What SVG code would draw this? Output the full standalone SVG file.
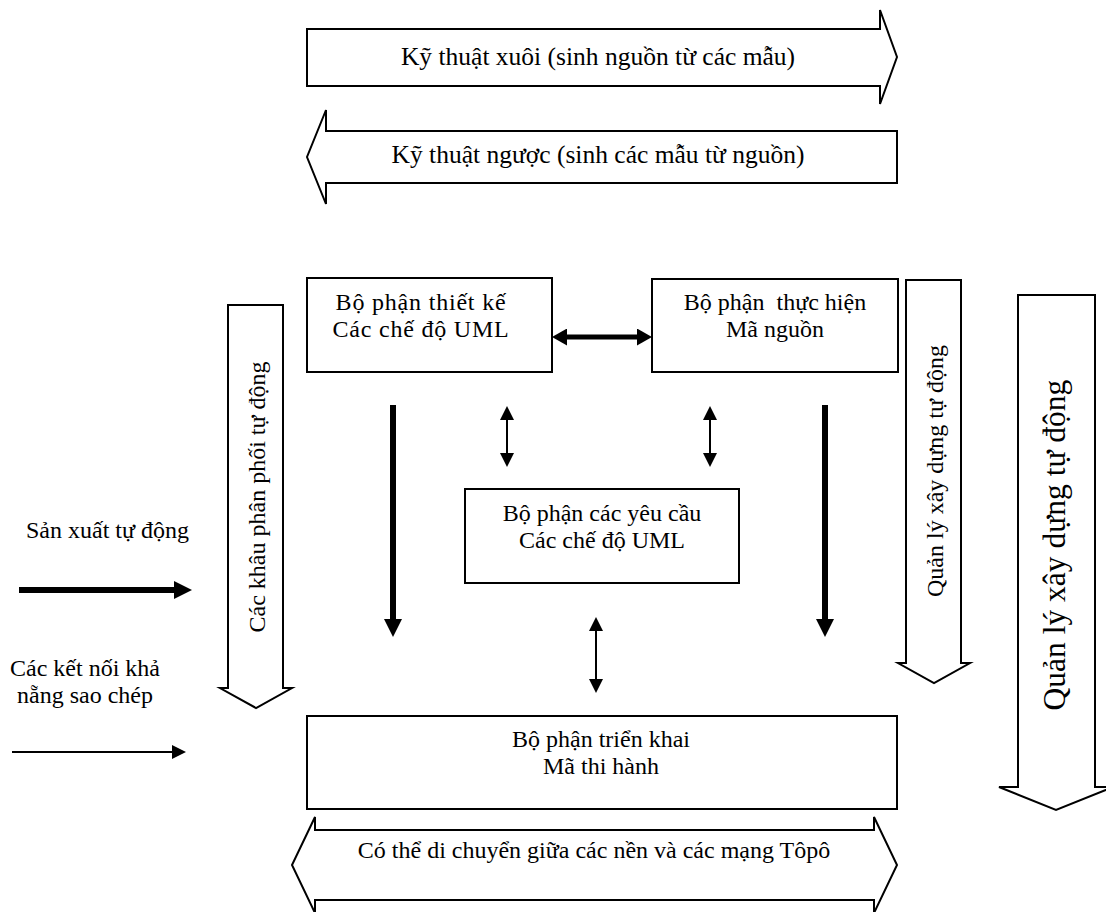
<svg xmlns="http://www.w3.org/2000/svg" width="1106" height="912" viewBox="0 0 1106 912">
<style>
.shape{fill:#fff;stroke:#000;stroke-width:2;stroke-linejoin:miter}
.t{font-family:"Liberation Serif","Times New Roman",serif;font-size:24px;fill:#000;text-anchor:middle}
.lg{font-size:25.5px}
.big{font-size:31.5px}
.thick{stroke:#000;stroke-width:6;fill:none}
.mid{stroke:#000;stroke-width:5;fill:none}
.thin{stroke:#000;stroke-width:2;fill:none}
</style>
<defs>
<marker id="hThick" markerUnits="userSpaceOnUse" markerWidth="18" markerHeight="18" refX="0" refY="9" orient="auto-start-reverse"><path d="M0,0 L18,9 L0,18 Z" fill="#000"/></marker>
<marker id="hMid" markerUnits="userSpaceOnUse" markerWidth="15" markerHeight="17" refX="0" refY="8.5" orient="auto-start-reverse"><path d="M0,0 L15,8.5 L0,17 Z" fill="#000"/></marker>
<marker id="hThin" markerUnits="userSpaceOnUse" markerWidth="14" markerHeight="14" refX="0" refY="7" orient="auto-start-reverse"><path d="M0,0 L14,7 L0,14 Z" fill="#000"/></marker>
</defs>
<rect width="1106" height="912" fill="#fff"/>

<g id="forward">
<polygon class="shape" points="307,29 880,29 880,10 897,57 880,104 880,86 307,86"/>
<text class="t lg" x="598" y="65">Kỹ thuật xuôi (sinh nguồn từ các mẫu)</text>
</g>
<g id="reverse">
<polygon class="shape" points="897,131 326,131 326,110 307,157 326,204 326,183 897,183"/>
<text class="t lg" x="598" y="163">Kỹ thuật ngược (sinh các mẫu từ nguồn)</text>
</g>

<g id="design">
<rect class="shape" x="307" y="278" width="245" height="94"/>
<text class="t" x="421" y="310" letter-spacing="0.8">Bộ phận thiết kế</text>
<text class="t" x="421" y="337" letter-spacing="0.8">Các chế độ UML</text>
</g>
<g id="impl">
<rect class="shape" x="652" y="279" width="246" height="93"/>
<text class="t" x="775" y="310" xml:space="preserve">Bộ phận  thực hiện</text>
<text class="t" x="775" y="337">Mã nguồn</text>
</g>
<g id="req">
<rect class="shape" x="465" y="489" width="274" height="94"/>
<text class="t" x="602" y="521">Bộ phận các yêu cầu</text>
<text class="t" x="602" y="548">Các chế độ UML</text>
</g>
<g id="deploy">
<rect class="shape" x="307" y="716" width="590" height="93"/>
<text class="t" x="601" y="747">Bộ phận triển khai</text>
<text class="t" x="601" y="774">Mã thi hành</text>
</g>
<g id="portable">
<polygon class="shape" points="315,830 874,830 874,817 897,865 874,913 874,900 315,900 315,913 292,865 315,817"/>
<text class="t" x="594" y="858">Có thể di chuyển giữa các nền và các mạng Tôpô</text>
</g>

<g id="distribution">
<polygon class="shape" points="228,305 283,305 283,688 292,688 256,708 220,688 228,688"/>
<text class="t" transform="translate(257,497) rotate(-90)" dominant-baseline="central">Các khâu phân phối tự động</text>
</g>
<g id="build-small">
<polygon class="shape" points="906,280 961,280 961,663 970,663 934,683 898,663 906,663"/>
<text class="t" transform="translate(935,471) rotate(-90)" dominant-baseline="central">Quản lý xây dựng tự động</text>
</g>
<g id="build-big">
<polygon class="shape" points="1018,295 1095,295 1095,787 1113,787 1056,810 999,787 1018,787"/>
<text class="t big" transform="translate(1054,545) rotate(-90)" dominant-baseline="central">Quản lý xây dựng tự động</text>
</g>

<g id="legend">
<text class="t" x="26" y="538" style="text-anchor:start">Sản xuất tự động</text>
<text class="t" x="85" y="676">Các kết nối khả</text>
<text class="t" x="85" y="703">nẵng sao chép</text>
</g>

<g id="connectors">
<line class="mid" x1="567" y1="337" x2="637" y2="337" marker-start="url(#hMid)" marker-end="url(#hMid)"/>
<line class="thick" x1="393" y1="405" x2="393" y2="619" marker-end="url(#hThick)"/>
<line class="thick" x1="825" y1="405" x2="825" y2="619" marker-end="url(#hThick)"/>
<line class="thin" x1="507" y1="420" x2="507" y2="453" marker-start="url(#hThin)" marker-end="url(#hThin)"/>
<line class="thin" x1="710" y1="420" x2="710" y2="453" marker-start="url(#hThin)" marker-end="url(#hThin)"/>
<line class="thin" x1="596" y1="631" x2="596" y2="679" marker-start="url(#hThin)" marker-end="url(#hThin)"/>
<line class="thick" x1="19" y1="590" x2="174" y2="590" marker-end="url(#hThick)"/>
<line class="thin" x1="12" y1="752" x2="172" y2="752" marker-end="url(#hThin)"/>
</g>
</svg>
